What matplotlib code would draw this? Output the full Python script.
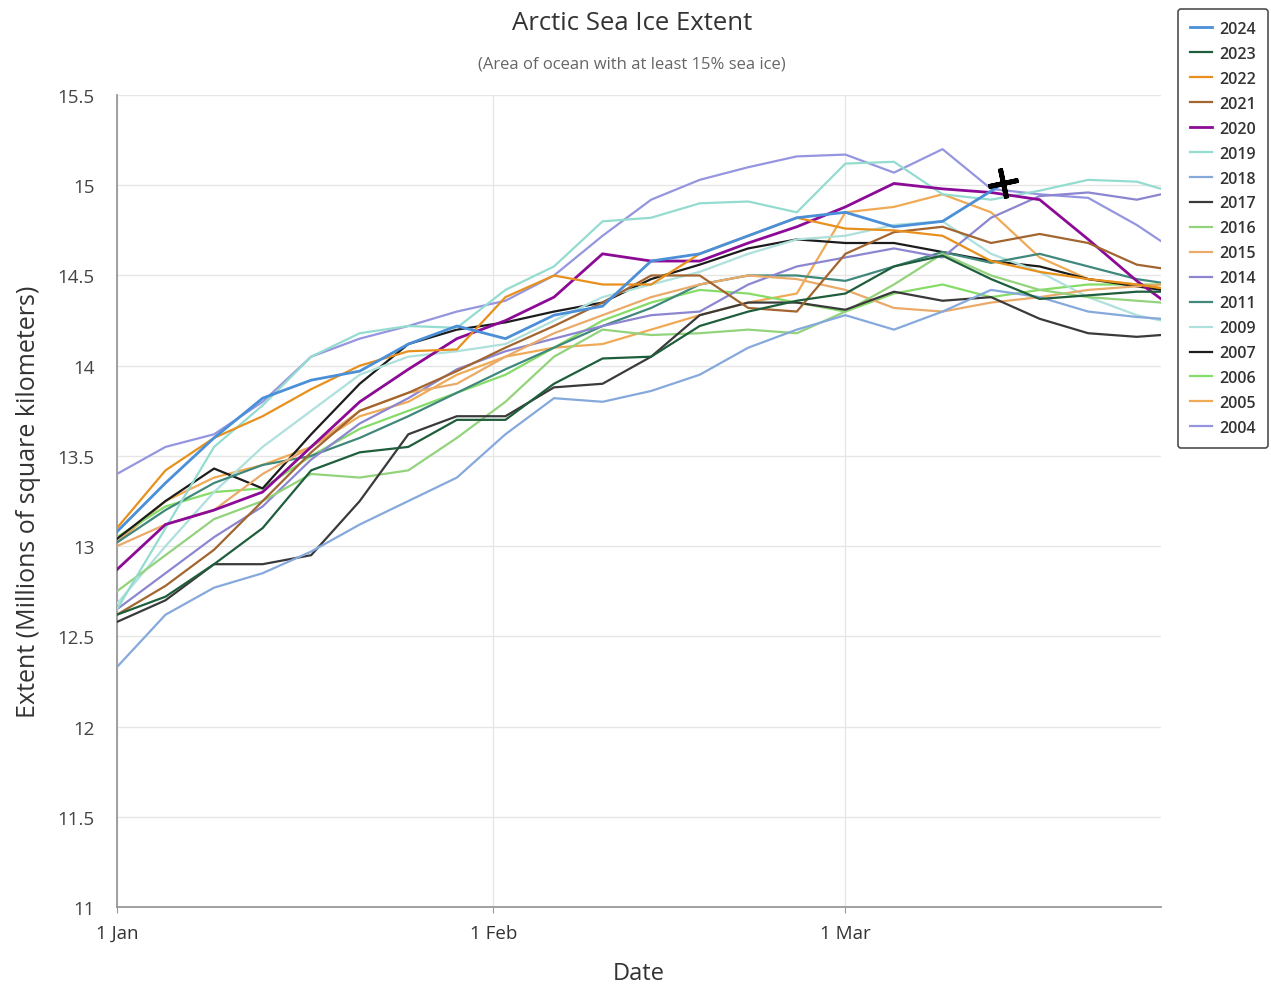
import matplotlib.pyplot as plt
import numpy as np

plt.rcParams['font.family'] = ['Open Sans', 'DejaVu Sans']

# days since 1 Jan (2024 is a leap year, so 1 Mar is day 60)
days = list(range(0, 85, 4)) + [86]
days_2024 = list(range(0, 69, 4)) + [73]   # 2024 data stops on 14 Mar

years = ['2024', '2023', '2022', '2021', '2020', '2019', '2018', '2017',
         '2016', '2015', '2014', '2011', '2009', '2007', '2006', '2005', '2004']

colors = ['#4a8fd8', '#1f5e3c', '#e8901c', '#a3652f', '#8c0a96', '#94dccf',
          '#86a9dc', '#3a3a3a', '#93d37c', '#e9aa6a', '#8c86d0', '#40887c',
          '#aee0dc', '#1c1c1c', '#86dc68', '#f0aa55', '#9595e0']

extent = {
    '2024': [13.08, 13.35, 13.60, 13.82, 13.92, 13.97, 14.12, 14.22, 14.15, 14.28, 14.33,
             14.58, 14.62, 14.72, 14.82, 14.85, 14.77, 14.80, 15.01],
    '2023': [12.62, 12.72, 12.90, 13.10, 13.42, 13.52, 13.55, 13.70, 13.70, 13.90, 14.04,
             14.05, 14.22, 14.30, 14.36, 14.40, 14.55, 14.61, 14.48, 14.37, 14.39, 14.41, 14.41],
    '2022': [13.10, 13.42, 13.60, 13.72, 13.87, 14.00, 14.08, 14.09, 14.38, 14.50, 14.45,
             14.45, 14.62, 14.72, 14.82, 14.76, 14.75, 14.72, 14.58, 14.52, 14.48, 14.45, 14.43],
    '2021': [12.62, 12.78, 12.98, 13.25, 13.52, 13.75, 13.85, 13.97, 14.10, 14.22, 14.35,
             14.50, 14.50, 14.32, 14.30, 14.62, 14.74, 14.77, 14.68, 14.73, 14.68, 14.56, 14.54],
    '2020': [12.87, 13.12, 13.20, 13.30, 13.55, 13.80, 13.98, 14.15, 14.25, 14.38, 14.62,
             14.58, 14.58, 14.68, 14.77, 14.88, 15.01, 14.98, 14.96, 14.92, 14.70, 14.47, 14.37],
    '2019': [12.65, 13.10, 13.55, 13.78, 14.05, 14.18, 14.22, 14.21, 14.42, 14.55, 14.80,
             14.82, 14.90, 14.91, 14.85, 15.12, 15.13, 14.95, 14.92, 14.97, 15.03, 15.02, 14.98],
    '2018': [12.33, 12.62, 12.77, 12.85, 12.97, 13.12, 13.25, 13.38, 13.62, 13.82, 13.80,
             13.86, 13.95, 14.10, 14.20, 14.28, 14.20, 14.30, 14.42, 14.38, 14.30, 14.27, 14.26],
    '2017': [12.58, 12.70, 12.90, 12.90, 12.95, 13.25, 13.62, 13.72, 13.72, 13.88, 13.90,
             14.05, 14.28, 14.35, 14.35, 14.31, 14.41, 14.36, 14.38, 14.26, 14.18, 14.16, 14.17],
    '2016': [12.75, 12.95, 13.15, 13.25, 13.40, 13.38, 13.42, 13.60, 13.80, 14.05, 14.20,
             14.17, 14.18, 14.20, 14.18, 14.30, 14.45, 14.62, 14.50, 14.42, 14.38, 14.36, 14.35],
    '2015': [13.00, 13.12, 13.20, 13.40, 13.55, 13.75, 13.85, 13.90, 14.05, 14.18, 14.28,
             14.38, 14.45, 14.50, 14.48, 14.42, 14.32, 14.30, 14.35, 14.38, 14.42, 14.44, 14.45],
    '2014': [12.65, 12.85, 13.05, 13.22, 13.48, 13.68, 13.82, 13.98, 14.08, 14.15, 14.22,
             14.28, 14.30, 14.45, 14.55, 14.60, 14.65, 14.60, 14.82, 14.94, 14.96, 14.92, 14.95],
    '2011': [13.02, 13.20, 13.35, 13.45, 13.50, 13.60, 13.72, 13.85, 13.98, 14.10, 14.22,
             14.32, 14.45, 14.50, 14.50, 14.47, 14.55, 14.63, 14.57, 14.62, 14.55, 14.48, 14.46],
    '2009': [12.68, 13.00, 13.30, 13.55, 13.75, 13.95, 14.05, 14.08, 14.12, 14.25, 14.38,
             14.45, 14.52, 14.62, 14.70, 14.72, 14.78, 14.80, 14.62, 14.52, 14.38, 14.28, 14.25],
    '2007': [13.04, 13.25, 13.43, 13.32, 13.62, 13.90, 14.12, 14.20, 14.24, 14.30, 14.35,
             14.48, 14.56, 14.65, 14.70, 14.68, 14.68, 14.63, 14.58, 14.55, 14.48, 14.44, 14.42],
    '2006': [13.05, 13.22, 13.30, 13.32, 13.50, 13.65, 13.75, 13.85, 13.95, 14.10, 14.25,
             14.35, 14.42, 14.40, 14.35, 14.30, 14.40, 14.45, 14.38, 14.42, 14.45, 14.45, 14.45],
    '2005': [13.02, 13.25, 13.38, 13.45, 13.55, 13.72, 13.80, 13.95, 14.05, 14.10, 14.12,
             14.20, 14.28, 14.35, 14.40, 14.85, 14.88, 14.95, 14.85, 14.60, 14.48, 14.45, 14.43],
    '2004': [13.40, 13.55, 13.62, 13.80, 14.05, 14.15, 14.22, 14.30, 14.36, 14.50, 14.72,
             14.92, 15.03, 15.10, 15.16, 15.17, 15.07, 15.20, 14.98, 14.95, 14.93, 14.78, 14.69],
}

month_ticks = [0, 31, 60]
month_labels = ['1 Jan', '1 Feb', '1 Mar']
y_ticks = [11, 11.5, 12, 12.5, 13, 13.5, 14, 14.5, 15, 15.5]
y_labels = ['11', '11.5', '12', '12.5', '13', '13.5', '14', '14.5', '15', '15.5']

fig = plt.figure(figsize=(12.71, 9.87), dpi=100)
ax = fig.add_axes([0.092, 0.080, 0.8215, 0.8227])

for i, yr in enumerate(years):
    vals = extent[yr]
    xs = days_2024 if yr == '2024' else days
    lw = 2.0 if yr in ('2024', '2020') else 1.6
    ax.plot(xs, vals, color=colors[i], lw=lw, label=yr,
            solid_joinstyle='round', zorder=len(years) - i + 2)

# cursor mark at the latest 2024 value
ax.plot(days_2024[-1], extent['2024'][-1], marker=(4, 2, 12),
        ms=22, mew=3.5, color='black', zorder=40)

ax.set_xlim(0, 86)
ax.set_ylim(11, 15.5)
ax.set_xticks(month_ticks)
ax.set_xticklabels(month_labels)
ax.set_yticks(y_ticks)
ax.set_yticklabels(y_labels)
ax.grid(True, color='#e6e6e6', lw=1)
ax.set_axisbelow(True)
for s in ['top', 'right']:
    ax.spines[s].set_visible(False)
ax.spines['left'].set_color('#999999')
ax.spines['bottom'].set_color('#999999')
ax.spines['left'].set_linewidth(1.3)
ax.spines['bottom'].set_linewidth(1.3)
ax.tick_params(axis='y', length=0, pad=16, labelsize=13.5, labelcolor='#444444')
ax.tick_params(axis='x', length=4, color='#999999', labelsize=13.5, labelcolor='#333333', pad=8)

ax.set_xlabel('Date', fontsize=17, color='#333333', labelpad=14)
ax.set_ylabel('Extent (Millions of square kilometers)', fontsize=18, color='#333333', labelpad=12)

fig.text(0.497, 0.976, 'Arctic Sea Ice Extent', ha='center', va='center', fontsize=18.5, color='#333333')
fig.text(0.497, 0.935, '(Area of ocean with at least 15% sea ice)', ha='center', va='center',
         fontsize=12, color='#666666')

leg = fig.legend(loc='upper left', bbox_to_anchor=(0.927, 0.99), borderaxespad=0, frameon=True,
                 fontsize=11.5, handlelength=1.35, handletextpad=0.45, labelspacing=0.56,
                 borderpad=0.75, fancybox=True, edgecolor='#222222')
leg.get_frame().set_linewidth(1.2)
for t in leg.get_texts():
    t.set_fontweight('semibold')
    t.set_color('#333333')

fig.savefig('out.png', dpi=100)
